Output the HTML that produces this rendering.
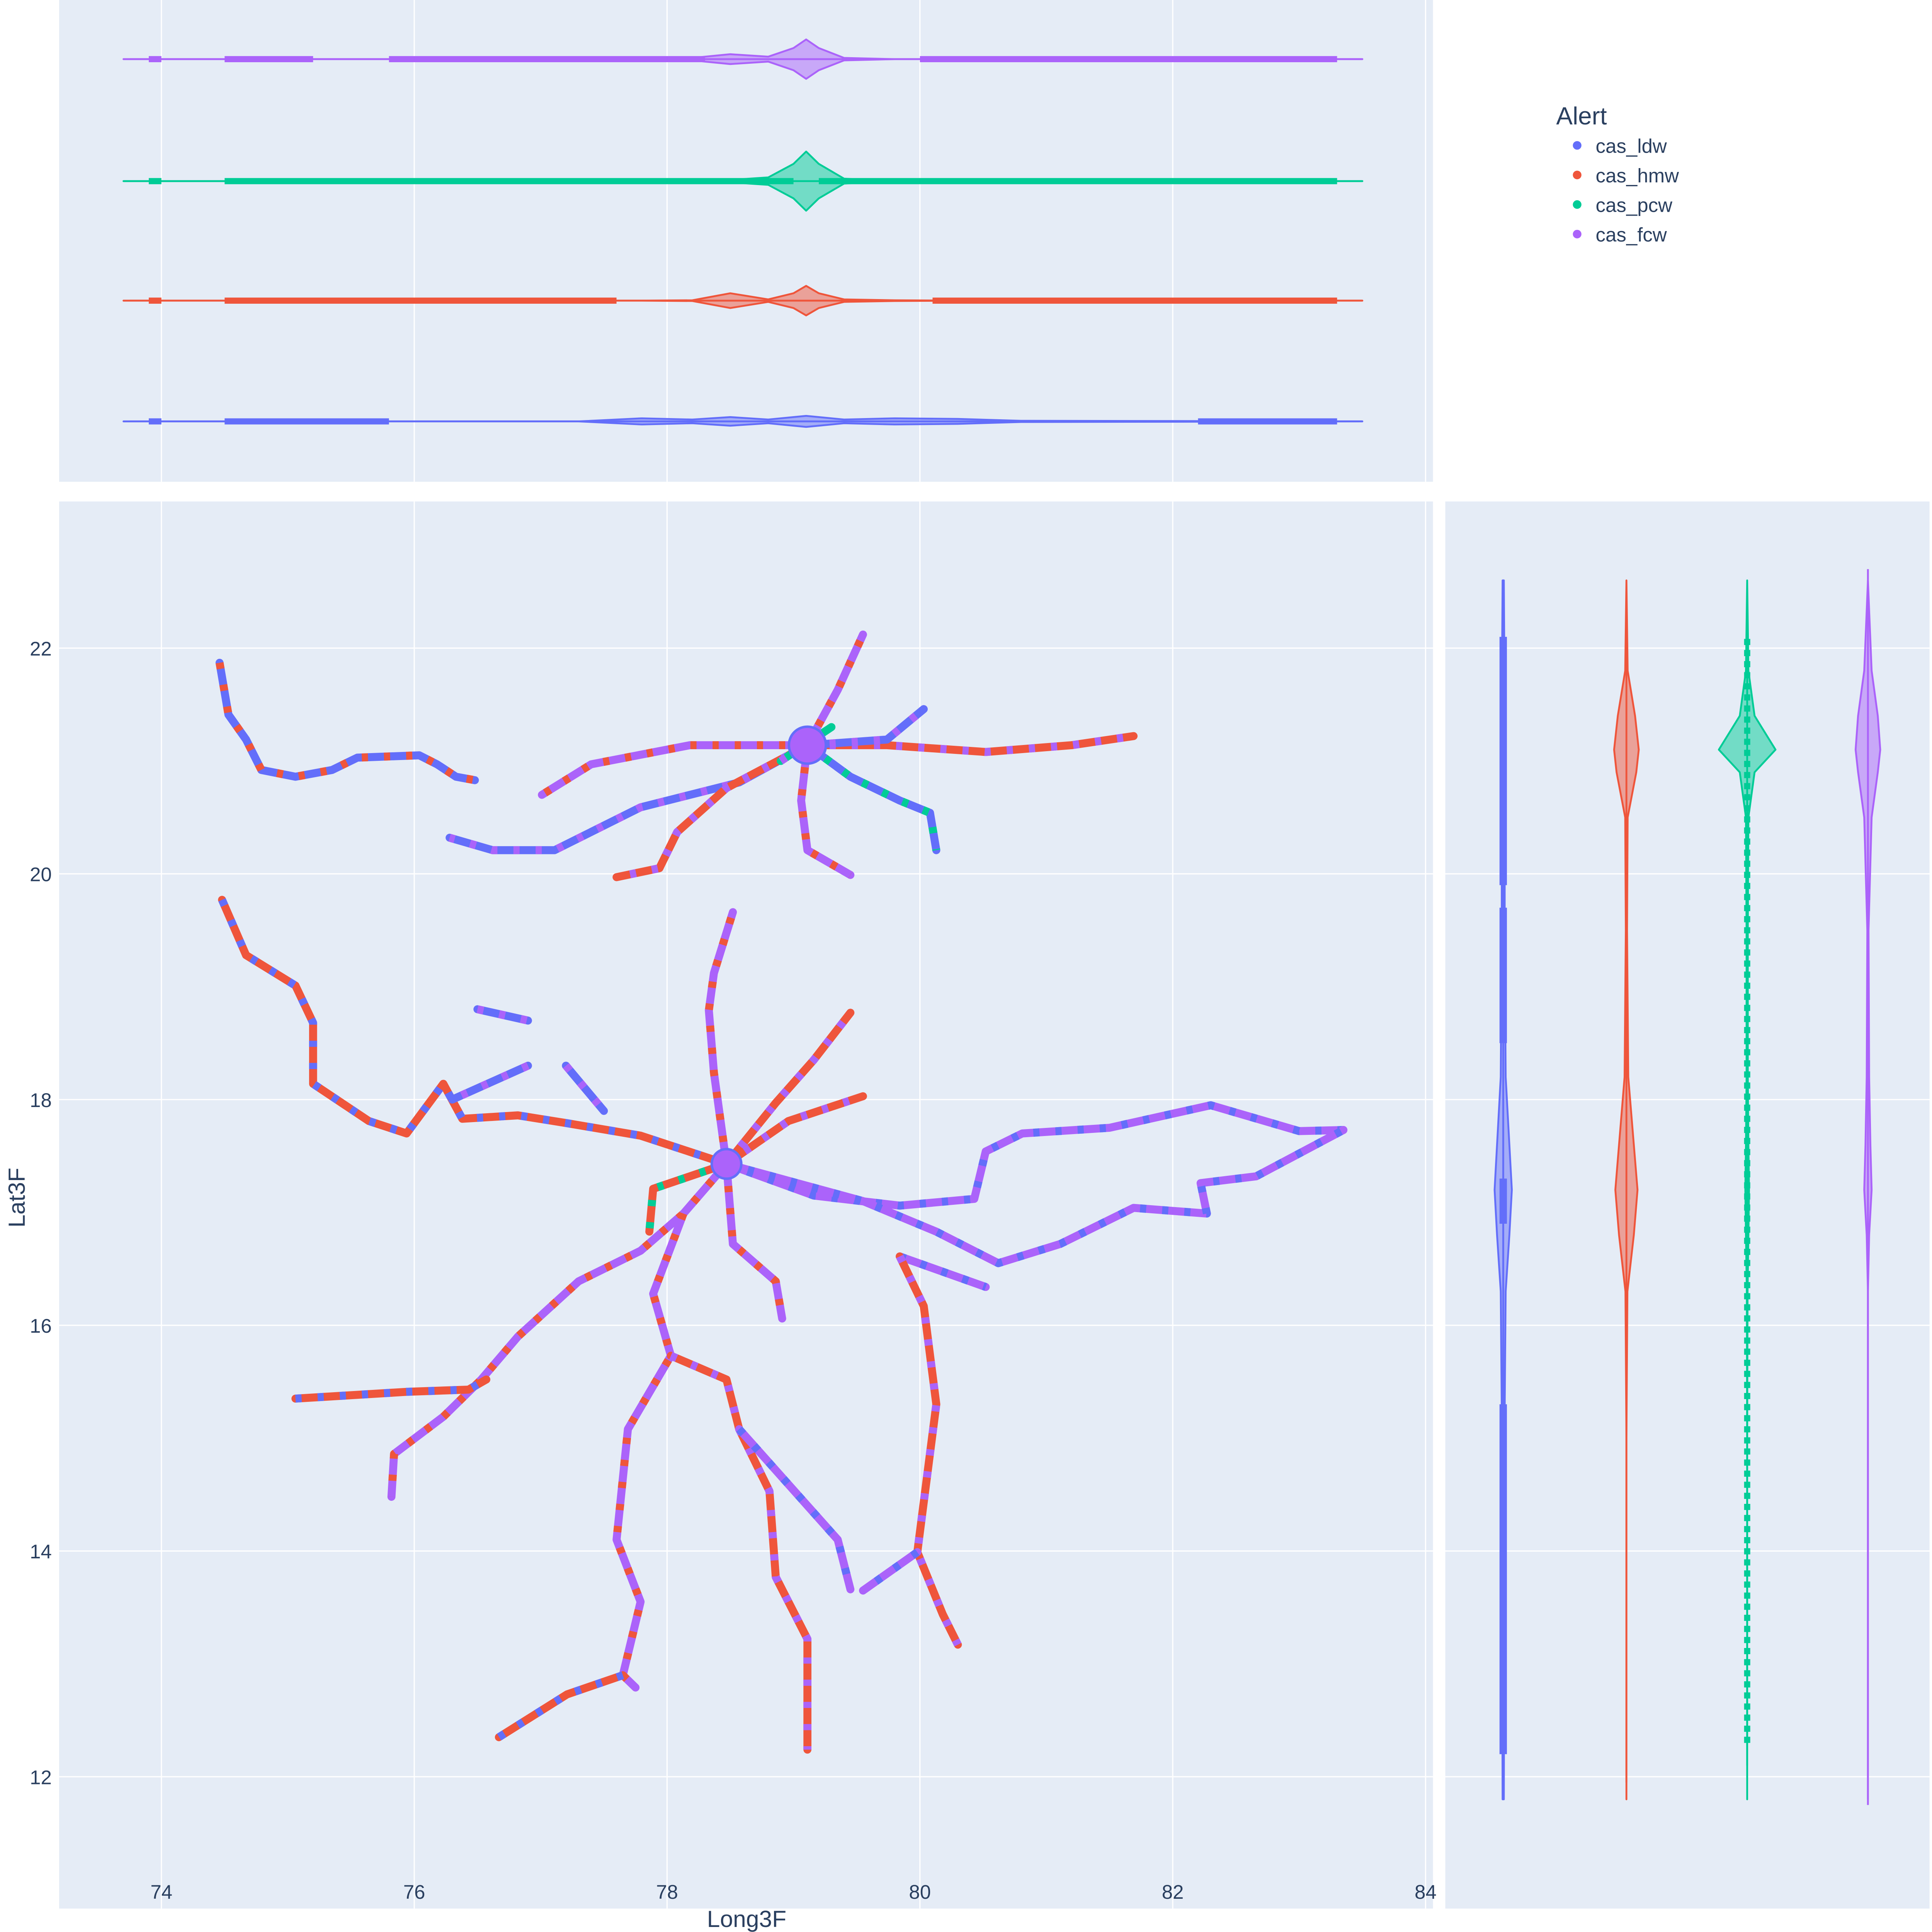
<!DOCTYPE html>
<html><head><meta charset="utf-8"><style>
html,body{margin:0;padding:0;background:#fff;overflow:hidden;width:100vw;height:100vh}
svg{display:block;position:fixed;left:0;top:0;width:100vw;height:100vh}
text{font-family:"Liberation Sans",sans-serif;fill:#2a3f5f}
</style></head><body>
<svg id="chart" viewBox="0 0 1568 1568" preserveAspectRatio="none" xmlns="http://www.w3.org/2000/svg">
<rect x="48" y="0" width="1115" height="391" fill="#e5ecf6"/>
<rect x="48" y="407" width="1115" height="1142" fill="#e5ecf6"/>
<rect x="1173" y="407" width="393" height="1142" fill="#e5ecf6"/>
<g id="grid"></g>
<g id="marks"></g>
<g id="axes"></g>
<text x="606" y="1564" font-size="19" text-anchor="middle">Long3F</text>
<text x="20" y="972" font-size="19" text-anchor="middle" transform="rotate(-90 20 972)">Lat3F</text>
<g>
<text x="1263" y="101" font-size="20">Alert</text>
<g id="legend"></g>
</g>
</svg>
<script>
const categories = ['cas_ldw','cas_hmw','cas_pcw','cas_fcw'];
const colors = ['#636efa','#EF553B','#00cc96','#ab63fa'];
const xTicks = [74,76,78,80,82,84];
const yTicks = [12,14,16,18,20,22];
// roads: main category index, secondary category index, [lon,lat,...]
const roadCats = [3,1,3,0,1,3,0,0, 0,1,3,1,1,3,3,3,1,3,3,3,1,3,1,3,1,1,0,0,0,2];
const roadSec  = [1,3,1,3,3,1,2,3, 1,0,1,3,3,0,0,0,3,0,1,1,0,1,3,0,2,0,3,3,3,3];
const roadPts = [
 [79.11,21.14,79.35,21.63,79.55,22.12],
 [79.11,21.14,79.74,21.14,80.52,21.08,81.2,21.14,81.69,21.22],
 [79.11,21.14,78.18,21.14,77.4,20.97,77.01,20.7],
 [79.11,21.14,78.57,20.81,77.79,20.59,77.11,20.21,76.62,20.21,76.28,20.32],
 [79.11,21.14,78.47,20.76,78.08,20.37,77.94,20.05,77.6,19.97],
 [79.11,21.14,79.06,20.65,79.11,20.21,79.45,19.99],
 [79.11,21.14,79.45,20.86,79.84,20.65,80.08,20.54,80.13,20.21],
 [79.11,21.14,79.74,21.19,80.03,21.46],
 [74.46,21.87,74.53,21.41,74.67,21.19,74.79,20.92,75.06,20.86,75.35,20.92,75.55,21.03,76.04,21.05,76.18,20.97,76.33,20.86,76.48,20.83],
 [74.48,19.77,74.67,19.28,75.06,19.01,75.2,18.68,75.2,18.14,75.64,17.81,75.94,17.7,76.23,18.14,76.38,17.83,76.82,17.86,77.21,17.79,77.79,17.68,78.47,17.43],
 [78.47,17.43,78.37,18.24,78.33,18.79,78.37,19.12,78.52,19.66],
 [78.47,17.43,78.86,17.97,79.16,18.35,79.45,18.77],
 [78.47,17.43,78.96,17.81,79.55,18.03],
 [78.47,17.43,79.16,17.15,79.84,17.06,80.43,17.12,80.52,17.54,80.81,17.7,81.5,17.75,82.3,17.95,83.0,17.72,83.35,17.73],
 [78.47,17.43,79.55,17.1,80.13,16.83,80.62,16.55,81.11,16.72,81.69,17.04,82.27,16.99,82.22,17.26,82.66,17.32,83.35,17.73],
 [79.84,16.61,80.52,16.34],
 [79.84,16.61,80.03,16.17,80.13,15.3,79.98,13.99,80.18,13.44,80.3,13.17],
 [79.98,13.99,79.55,13.65],
 [78.47,17.43,78.52,16.72,78.86,16.39,78.91,16.06],
 [78.47,17.43,78.13,16.99,77.79,16.66,77.3,16.39,76.82,15.9,76.53,15.52,76.23,15.19,75.84,14.86,75.82,14.48],
 [75.06,15.35,75.94,15.41,76.43,15.43,76.57,15.52],
 [78.13,16.99,77.89,16.28,78.03,15.73,77.69,15.08,77.6,14.1,77.79,13.55,77.65,12.9,77.75,12.79],
 [78.03,15.73,78.47,15.52,78.57,15.08,78.81,14.53,78.86,13.77,79.11,13.22,79.11,12.24],
 [78.57,15.08,79.35,14.1,79.45,13.66],
 [78.47,17.43,77.89,17.21,77.86,16.83],
 [77.65,12.9,77.21,12.73,76.67,12.35],
 [76.5,18.8,76.9,18.7],
 [77.2,18.3,77.5,17.9],
 [76.9,18.3,76.3,18.0],
 [78.9,21.0,79.3,21.3]
];
// top marginal violin densities (lon, half-width)
const topLon = [73.7,77.3,77.8,78.2,78.5,78.8,79.0,79.1,79.2,79.4,79.8,80.3,80.8,83.5];
const topW = [
 [0,0,2.5,1.5,3.5,1.5,3.5,4.5,3.5,1.5,2.5,2,0.5,0],
 [0,0,0,0.3,6,1,6,12,6,1,0.3,0,0,0],
 [0,0,0,0.3,1,3,14,24,14,2,0,0,0,0],
 [0,0,0,1,4,2,9,16,9,1,0,0,0,0]
];
const topPtRanges = [
 [73.9,74.0,74.5,75.8,82.2,83.3],
 [73.9,74.0,74.5,77.6,80.1,83.3],
 [73.9,74.0,74.5,79.0,79.2,83.3],
 [73.9,74.0,74.5,75.2,75.8,78.3,80.0,83.3]
];
// right marginal violin densities (lat, half-width)
const rightLat = [11.8,13,15,16.3,16.8,17.2,17.6,18.2,19.5,20.5,20.9,21.1,21.4,21.8,22.6];
const rightW = [
 [0.5,0.8,1,2,5,7,5,2,1.2,1.2,1.5,1.5,1.5,1,0.5],
 [0,0,0,0.8,6,9,6,1.5,0.5,1,8,10,7,1,0],
 [0,0,0,0.3,1,1.5,1,0.5,0.5,1,6,23,6,1,0],
 [0,0,0,0,1,3,2,1,0.5,3,8,10,8,3,0]
];
const rightPtRanges = [
 [12.2,15.3,16.9,17.3,18.5,19.7,19.9,22.1],
 [],
 [12.3,22.1],
 []
];
const rightRange = [[12.05,22.3],[11.95,22.5],[12.1,22.3],[11.75,22.7]];
const topRange = [[73.75,83.5],[73.75,83.5],[73.7,83.5],[73.75,83.5]];

const NS='http://www.w3.org/2000/svg';
const xS = v => 131 + (v-74)*102.6;
const yS = v => 526 - (v-22)*91.6;
const topY = [342,244,147,48];
const rightX = [1220,1320,1418,1516];
function mk(tag, attrs, parent){const e=document.createElementNS(NS,tag);for(const k in attrs)e.setAttribute(k,attrs[k]);parent.appendChild(e);return e;}
const grid=document.getElementById('grid'), marks=document.getElementById('marks'), axes=document.getElementById('axes');
xTicks.forEach(t=>{
 const g1=mk('line',{x1:xS(t),x2:xS(t),y1:407,y2:1549,stroke:'#fff','stroke-width':1},grid);
 
 
 const g2=mk('line',{x1:xS(t),x2:xS(t),y1:0,y2:391,stroke:'#fff','stroke-width':1},grid);
 
 
 const tx=mk('text',{x:xS(t),y:1541,'font-size':16,'text-anchor':'middle'},axes);tx.textContent=t;
 
 
});
yTicks.forEach(t=>{
 const g1=mk('line',{x1:48,x2:1163,y1:yS(t),y2:yS(t),stroke:'#fff','stroke-width':1},grid);
 
 
 const g2=mk('line',{x1:1173,x2:1566,y1:yS(t),y2:yS(t),stroke:'#fff','stroke-width':1},grid);
 
 
 const tx=mk('text',{x:42,y:yS(t)+6,'font-size':16,'text-anchor':'end'},axes);tx.textContent=t;
 
 
});
roadPts.forEach((pts,i)=>{
 let p=[];for(let j=0;j<pts.length;j+=2)p.push(xS(pts[j]).toFixed(1)+','+yS(pts[j+1]).toFixed(1));
 const l=mk('polyline',{points:p.join(' '),fill:'none',stroke:colors[roadCats[i]],'stroke-width':6.5,'stroke-linecap':'round','stroke-linejoin':'round'},marks);
 
 
 const d=mk('polyline',{points:p.join(' '),fill:'none',stroke:colors[roadSec[i]],'stroke-width':6.5,'stroke-dasharray':'5 13','stroke-linejoin':'round'},marks);
 
 
});
[[79.11,21.14,3,15],[78.47,17.43,3,12]].forEach(h=>{
 const c=mk('circle',{cx:xS(h[0]),cy:yS(h[1]),r:h[3],fill:colors[h[2]],stroke:colors[0],'stroke-width':2},marks);
 
 
});
categories.forEach((cat,i)=>{
 const y0=topY[i];
 const bl=mk('line',{x1:xS(topRange[i][0]),x2:xS(topRange[i][1]),y1:y0,y2:y0,stroke:colors[i],'stroke-width':1.5},marks);
 
 
 let up=[],dn=[];
 topLon.forEach((lv,k)=>{up.push(xS(lv)+','+(y0-topW[i][k]));dn.unshift(xS(lv)+','+(y0+topW[i][k]));});
 const v=mk('polygon',{points:up.concat(dn).join(' '),fill:colors[i],'fill-opacity':0.5,stroke:colors[i],'stroke-width':1.5,'stroke-linejoin':'round'},marks);
 
 
 const r=topPtRanges[i];
 for(let k=0;k<r.length;k+=2){
  const s=mk('line',{x1:xS(r[k]),x2:xS(r[k+1]),y1:y0,y2:y0,stroke:colors[i],'stroke-width':5},marks);
  
  
 }
});
categories.forEach((cat,i)=>{
 const x0=rightX[i];
 const bl=mk('line',{x1:x0,x2:x0,y1:yS(rightRange[i][0]),y2:yS(rightRange[i][1]),stroke:colors[i],'stroke-width':1.5},marks);
 
 
 let l=[],r=[];
 rightLat.forEach((lv,k)=>{l.push((x0-rightW[i][k])+','+yS(lv));r.unshift((x0+rightW[i][k])+','+yS(lv));});
 const v=mk('polygon',{points:l.concat(r).join(' '),fill:colors[i],'fill-opacity':0.5,stroke:colors[i],'stroke-width':1.5,'stroke-linejoin':'round'},marks);
 
 
 const rg=rightPtRanges[i];
 for(let k=0;k<rg.length;k+=2){
  const s=mk('line',{x1:x0,x2:x0,y1:yS(rg[k]),y2:yS(rg[k+1]),stroke:colors[i],'stroke-width':i==2?5:6,'stroke-dasharray':i==2?'5 4':'none'},marks);
  
  
 }
});
const lg=document.getElementById('legend');
categories.forEach((cat,i)=>{
 const g=mk('g',{},lg);
 
 
 mk('circle',{cx:1280,cy:118+i*24,r:3.5,fill:colors[i]},g);
 const t=mk('text',{x:1295,y:124+i*24,'font-size':16},g);t.textContent=cat;
});
</script>
</body></html>
